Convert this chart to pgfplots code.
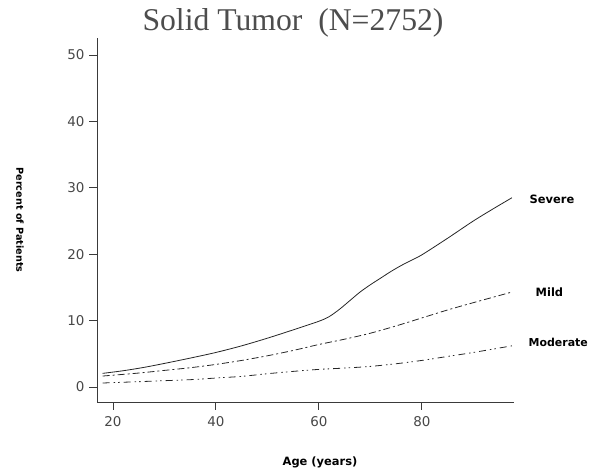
\documentclass[border=0pt]{standalone}
\usepackage{pgfplots}
\pgfplotsset{compat=1.18}
\usepackage{fontspec}
\setmainfont{DejaVu Sans}
\newfontfamily\titlefont{Liberation Serif}
\definecolor{titlegray}{HTML}{4D4D4D}
\definecolor{axisgray}{HTML}{3A3A3A}

\begin{document}
\begin{tikzpicture}[x=1bp,y=1bp]
\useasboundingbox (0,0) rectangle (590,471);
\begin{axis}[
  at={(97bp,69bp)}, anchor=south west,
  scale only axis, width=417bp, height=364bp,
  xmin=16.9, xmax=97.9, ymin=-2.26, ymax=52.56,
  axis lines*=left,
  axis line style={axisgray, line width=0.9bp},
  xtick={20,40,60,80}, ytick={0,10,20,30,40,50},
  tick align=outside, major tick length=8bp,
  tick style={axisgray, line width=0.9bp},
  minor tick num=0,
  /pgf/number format/assume math mode=true,
  tick label style={font=\fontsize{13.5}{14}\selectfont, text=black!72},
  xticklabel style={yshift=-3bp},
  yticklabel style={xshift=-1bp},
  clip=false,
  every axis plot/.append style={line width=0.8bp, black!85, smooth, tension=0.5},
]
% severe
\addplot[solid] coordinates {
 (18,2.05) (22,2.45) (26,2.95) (30,3.55) (35,4.35) (40,5.2) (45,6.2) (50,7.35)
 (55,8.6) (60,9.9) (62,10.6) (64,11.7) (66,13.0) (68,14.3) (70,15.4) (72,16.4)
 (74,17.4) (76,18.3) (78,19.1) (80,19.9) (85,22.4) (90,25.0) (94,26.9) (97.5,28.5)}
 node[pos=1, anchor=west, xshift=14bp, yshift=-2bp, text=black,
      font=\fontsize{11.5}{12}\selectfont\bfseries] {Severe};
% mild
\addplot[dash pattern=on 7bp off 3bp on 2bp off 3bp] coordinates {
 (18,1.65) (25,2.1) (30,2.5) (35,2.9) (40,3.4) (45,4.0) (50,4.7) (55,5.5)
 (60,6.4) (65,7.2) (70,8.1) (75,9.2) (80,10.4) (85,11.6) (90,12.7) (97.5,14.3)}
 node[pos=1, anchor=west, xshift=20bp, text=black,
      font=\fontsize{11.5}{12}\selectfont\bfseries] {Mild};
% moderate
\addplot[dash pattern=on 7bp off 4bp on 1.5bp off 3bp on 1.5bp off 4bp] coordinates {
 (18,0.6) (25,0.8) (30,0.95) (35,1.1) (40,1.35) (45,1.6) (50,2.0) (55,2.35)
 (60,2.65) (65,2.85) (70,3.1) (75,3.5) (80,4.0) (85,4.6) (90,5.2) (97.5,6.2)}
 node[pos=1, anchor=west, xshift=13bp, yshift=3bp, text=black,
      font=\fontsize{11}{12}\selectfont\bfseries] {Moderate};
\end{axis}
\node[text=titlegray, font=\titlefont\fontsize{31.8}{32}\selectfont] at (293,448) {Solid Tumor\ \ (N=2752)};
\node[font=\fontsize{9.7}{10}\selectfont\bfseries, rotate=-90] at (20,251) {Percent of Patients};
\node[font=\fontsize{11.5}{12}\selectfont\bfseries] at (320,9) {Age (years)};
\end{tikzpicture}
\end{document}
